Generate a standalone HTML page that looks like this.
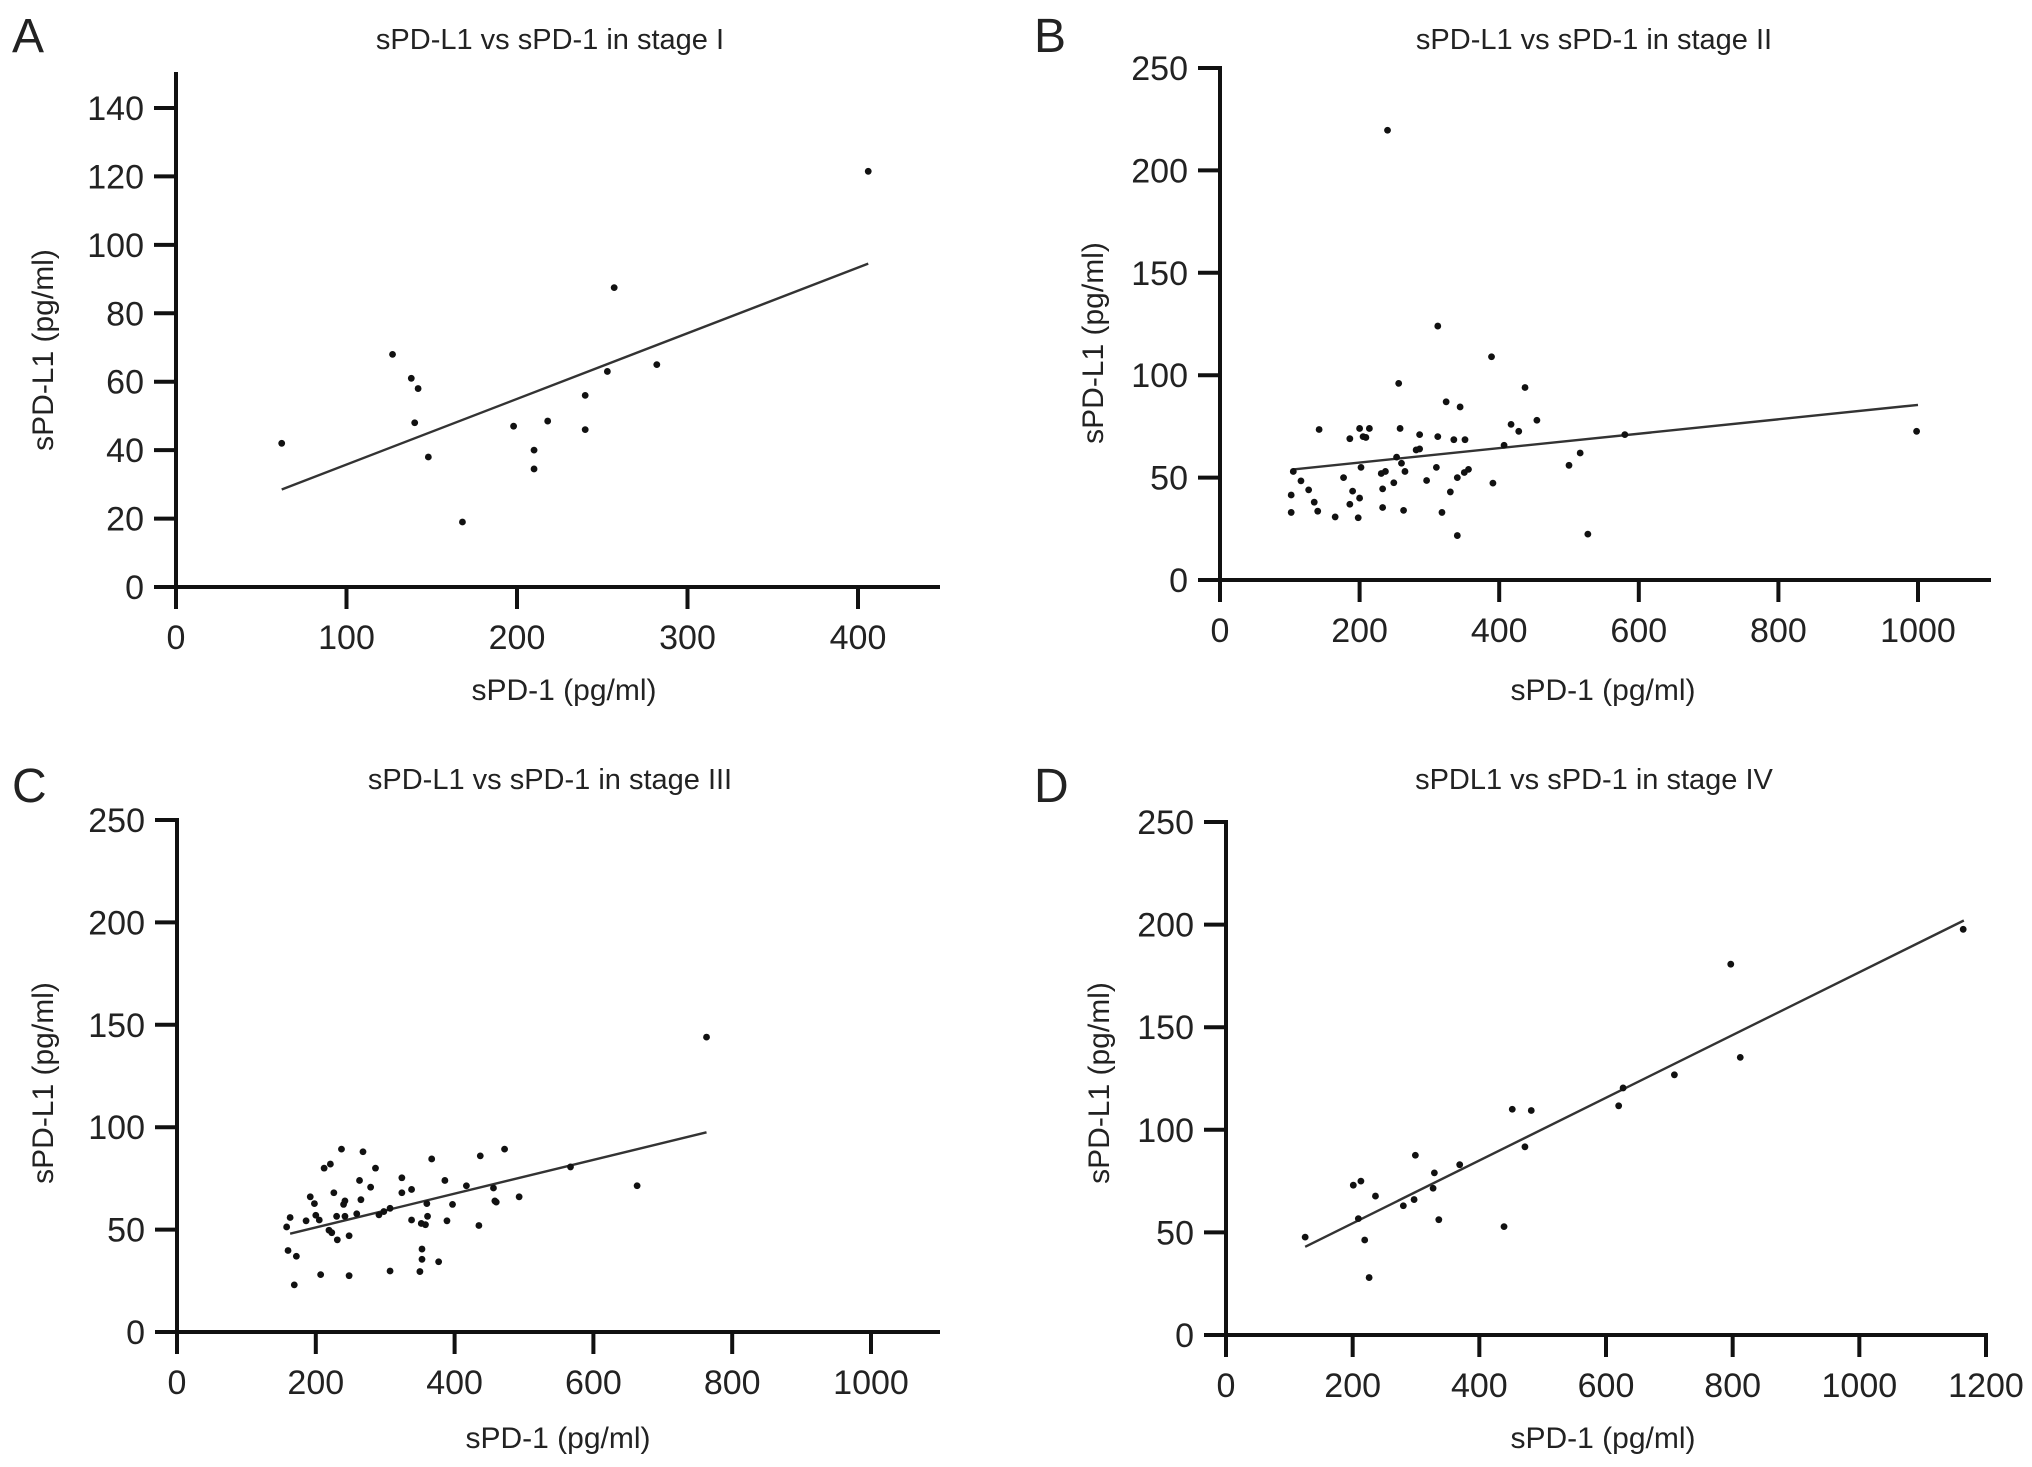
<!DOCTYPE html>
<html><head><meta charset="utf-8"><style>
html,body{margin:0;padding:0;background:#fff}
svg{display:block}
text{font-family:"Liberation Sans",Arial,sans-serif;fill:#222}
</style></head><body>
<svg id="fig" width="2032" height="1467" viewBox="0 0 2032 1467"></svg>
<script>
// ---- Panel A data ----
const aX = [62,127,138,142,140,148,168,198,210,210,218,240,240,253,257,282,406];
const aY = [42,68,61,58,48,38,19,47,40,34.5,48.5,56,46,63,87.5,65,121.5];
const aFit = [[62,28.5],[406,94.5]];
const aXTicks = [0,100,200,300,400];
const aYTicks = [0,20,40,60,80,100,120,140];
// ---- Panel B data ----
const bX = [240,312,389,256,437,324,344,454,142,200,214,258,417,428,998,186,205,209,286,312,335,351,580,407,281,286,516,253,202,260,310,500,105,237,231,265,356,350,340,116,177,296,249,391,127,190,233,330,102,200,186,135,233,102,140,263,318,165,198,340,527];
const bY = [219.6,124,109,96,94,87,84.5,78,73.5,74,74,74,76,72.6,72.6,69,70,69.6,71,70,68.5,68.5,71,65.8,63.5,64,62,60,55,57,55,56,53,53,52,53,54,52.5,50,48.4,50,48.6,47.5,47.3,44,43.4,44.5,43,41.5,40,37,38,35.4,33,33.6,34,33,30.8,30.4,21.7,22.4];
const bFit = [[105,54],[1000,85.5]];
const bXTicks = [0,200,400,600,800,1000];
const bYTicks = [0,50,100,150,200,250];
// ---- Panel C data ----
const cX = [763,472,237,268,437,367,567,212,221,286,324,263,386,417,663,279,338,456,226,324,192,493,265,242,458,198,360,397,460,240,307,298,259,291,200,230,242,361,163,205,338,389,186,352,358,435,158,219,223,248,231,160,172,353,353,377,307,350,207,248,169];
const cY = [144,89.3,89.3,88,86,84.5,80.6,80,82,80,75.3,74,74,71.4,71.4,70.7,69.6,70.3,68,68,66,66,64.6,64,64,62.7,62.7,62.3,63.4,62.3,60.4,58.8,57.7,57.2,57,56.5,56.5,56.5,55.9,54.7,54.7,54.3,54.3,53,52.4,52,51.3,49.7,48.5,47,45,39.8,37,40.5,35.5,34.3,29.8,29.5,28,27.5,23];
const cFit = [[163,48],[763,97.5]];
const cXTicks = [0,200,400,600,800,1000];
const cYTicks = [0,50,100,150,200,250];
// ---- Panel D data ----
const dX = [1164,797,812,708,627,620,452,482,472,299,369,329,201,213,327,236,297,280,209,336,439,125,219,226];
const dY = [197.7,180.7,135.3,126.8,120.4,111.7,110,109.4,91.7,87.6,83,79,73,75,71.5,67.7,66,63,56.7,56.2,52.8,47.7,46.3,28];
const dFit = [[125,43],[1165,202]];
const dXTicks = [0,200,400,600,800,1000,1200];
const dYTicks = [0,50,100,150,200,250];

const NS = "http://www.w3.org/2000/svg";
const svg = document.getElementById('fig');
function mk(tag, attrs, parent){
  const e = document.createElementNS(NS, tag);
  for (const k in attrs) e.setAttribute(k, attrs[k]);
  (parent||svg).appendChild(e);
  return e;
}
function panel(o){
  const g = mk('g', {});
  
  
  const sx = v => o.x0 + (v - o.xmin) / (o.xmax - o.xmin) * (o.x1 - o.x0);
  const sy = v => o.y0 - (v - o.ymin) / (o.ymax - o.ymin) * (o.y0 - o.y1);
  const L = mk('text', {x:o.lx, y:o.ly, 'font-size':48}, g);
  L.textContent = o.letter;
  
  
  const T = mk('text', {x:o.tx, y:o.ty, 'font-size':29, 'text-anchor':'middle'}, g);
  T.textContent = o.title;
  
  
  const ya = mk('line', {x1:o.x0, y1:o.ytop, x2:o.x0, y2:o.y0+2, stroke:'#111', 'stroke-width':4}, g);
  
  
  const xa = mk('line', {x1:o.x0-22, y1:o.y0, x2:o.xend, y2:o.y0, stroke:'#111', 'stroke-width':4}, g);
  
  
  o.yt.forEach(v => {
    const y = sy(v);
    const tk = mk('line', {x1:o.x0-22, y1:y, x2:o.x0, y2:y, stroke:'#111', 'stroke-width':4}, g);
    
    
    const t = mk('text', {x:o.x0-32, y:y+12, 'font-size':34, 'text-anchor':'end'}, g);
    t.textContent = v;
    
    
  });
  o.xt.forEach(v => {
    const x = sx(v);
    const tk = mk('line', {x1:x, y1:o.y0, x2:x, y2:o.y0+22, stroke:'#111', 'stroke-width':4}, g);
    
    
    const t = mk('text', {x:x, y:o.y0+62, 'font-size':34, 'text-anchor':'middle'}, g);
    t.textContent = v;
    
    
  });
  const xl = mk('text', {x:o.xlx, y:o.xly, 'font-size':30, 'text-anchor':'middle'}, g);
  xl.textContent = 'sPD-1 (pg/ml)';
  
  
  const yl = mk('text', {x:0, y:0, 'font-size':30, 'text-anchor':'middle', transform:`translate(${o.ylx},${o.yly}) rotate(-90)`}, g);
  yl.textContent = 'sPD-L1 (pg/ml)';
  
  
  const fl = mk('line', {x1:sx(o.fit[0][0]), y1:sy(o.fit[0][1]), x2:sx(o.fit[1][0]), y2:sy(o.fit[1][1]), stroke:'#333', 'stroke-width':2.4}, g);
  
  
  o.xs.forEach((v, i) => {
    const c = mk('circle', {cx:sx(v), cy:sy(o.ys[i]), r:3.4, fill:'#111'}, g);
    
    
  });
}
panel({letter:'A', title:'sPD-L1 vs sPD-1 in stage I', lx:12, ly:52, tx:550, ty:49,
  x0:176, x1:858, xmin:0, xmax:400, y0:587, y1:108, ymin:0, ymax:140, ytop:72, xend:940,
  xt:aXTicks, yt:aYTicks, xs:aX, ys:aY, fit:aFit, xlx:564, xly:700, ylx:53, yly:350});
panel({letter:'B', title:'sPD-L1 vs sPD-1 in stage II', lx:1034, ly:52, tx:1594, ty:49,
  x0:1220, x1:1918, xmin:0, xmax:1000, y0:580, y1:68, ymin:0, ymax:250, ytop:66, xend:1991,
  xt:bXTicks, yt:bYTicks, xs:bX, ys:bY, fit:bFit, xlx:1603, xly:700, ylx:1103, yly:343});
panel({letter:'C', title:'sPD-L1 vs sPD-1 in stage III', lx:12, ly:802, tx:550, ty:789,
  x0:177, x1:871, xmin:0, xmax:1000, y0:1332, y1:820, ymin:0, ymax:250, ytop:818, xend:940,
  xt:cXTicks, yt:cYTicks, xs:cX, ys:cY, fit:cFit, xlx:558, xly:1448, ylx:53, yly:1083});
panel({letter:'D', title:'sPDL1 vs sPD-1 in stage IV', lx:1034, ly:802, tx:1594, ty:789,
  x0:1226, x1:1986, xmin:0, xmax:1200, y0:1335, y1:822, ymin:0, ymax:250, ytop:820, xend:1988,
  xt:dXTicks, yt:dYTicks, xs:dX, ys:dY, fit:dFit, xlx:1603, xly:1448, ylx:1109, yly:1083});
</script>
</body></html>
